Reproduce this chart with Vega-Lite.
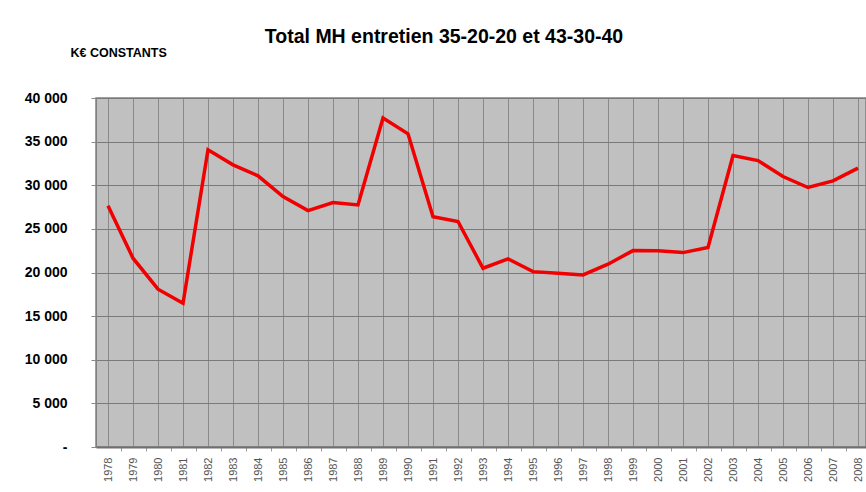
{
  "$schema": "https://vega.github.io/schema/vega-lite/v6.json",
  "autosize": {"type": "none"},
  "width": 770,
  "height": 349,
  "padding": {"left": 96, "top": 98, "right": 0, "bottom": 45},
  "background": "white",
  "title": {
    "text": "Total MH entretien 35-20-20 et 43-30-40",
    "anchor": "middle",
    "dx": -37,
    "offset": -16,
    "baseline": "alphabetic",
    "font": "Liberation Sans, Arial, sans-serif",
    "fontSize": 19.5,
    "fontWeight": "bold",
    "color": "#000000"
  },
  "data": {
    "values": [
      {"year": 1978, "value": 27640},
      {"year": 1979, "value": 21640},
      {"year": 1980, "value": 18090},
      {"year": 1981, "value": 16480},
      {"year": 1982, "value": 34060},
      {"year": 1983, "value": 32340},
      {"year": 1984, "value": 31080},
      {"year": 1985, "value": 28700},
      {"year": 1986, "value": 27100},
      {"year": 1987, "value": 28020},
      {"year": 1988, "value": 27750},
      {"year": 1989, "value": 37700},
      {"year": 1990, "value": 35900},
      {"year": 1991, "value": 26400},
      {"year": 1992, "value": 25840},
      {"year": 1993, "value": 20490},
      {"year": 1994, "value": 21560},
      {"year": 1995, "value": 20100},
      {"year": 1996, "value": 19920},
      {"year": 1997, "value": 19720},
      {"year": 1998, "value": 20950},
      {"year": 1999, "value": 22510},
      {"year": 2000, "value": 22490},
      {"year": 2001, "value": 22280},
      {"year": 2002, "value": 22860},
      {"year": 2003, "value": 33400},
      {"year": 2004, "value": 32830},
      {"year": 2005, "value": 31000},
      {"year": 2006, "value": 29740},
      {"year": 2007, "value": 30500},
      {"year": 2008, "value": 31960}
    ]
  },
  "mark": {"type": "line", "color": "#F00000", "strokeWidth": 3.5, "strokeJoin": "miter", "clip": false},
  "encoding": {
    "x": {
      "field": "year",
      "type": "quantitative",
      "scale": {"domain": [1977.52, 2008.32], "nice": false, "zero": false},
      "axis": {
        "title": null,
        "values": [1978,1978.5,1979,1979.5,1980,1980.5,1981,1981.5,1982,1982.5,1983,1983.5,1984,1984.5,1985,1985.5,1986,1986.5,1987,1987.5,1988,1988.5,1989,1989.5,1990,1990.5,1991,1991.5,1992,1992.5,1993,1993.5,1994,1994.5,1995,1995.5,1996,1996.5,1997,1997.5,1998,1998.5,1999,1999.5,2000,2000.5,2001,2001.5,2002,2002.5,2003,2003.5,2004,2004.5,2005,2005.5,2006,2006.5,2007,2007.5,2008],
        "labelExpr": "datum.value % 1 == 0 ? format(datum.value, 'd') : ''",
        "labelAngle": -90,
        "labelAlign": "right",
        "labelBaseline": "middle",
        "labelPadding": 6,
        "labelFont": "Liberation Sans, Arial, sans-serif",
        "labelFontSize": 11,
        "labelColor": "#555555",
        "labelOverlap": false,
        "ticks": true,
        "tickSize": 4,
        "tickColor": "#9a9a9a",
        "tickOpacity": {"condition": {"test": "datum.value % 1 == 0", "value": 0}, "value": 1},
        "grid": true,
        "gridColor": "#8a8a8a",
        "gridOpacity": {"condition": {"test": "datum.value % 1 == 0", "value": 1}, "value": 0},
        "gridWidth": 1,
        "domain": true,
        "domainColor": "#707070",
        "domainWidth": 2
      }
    },
    "y": {
      "field": "value",
      "type": "quantitative",
      "scale": {"domain": [0, 40000], "nice": false},
      "axis": {
        "title": "K€ CONSTANTS",
        "titleAngle": 0,
        "titleAlign": "left",
        "titleBaseline": "alphabetic",
        "titleX": -26,
        "titleY": -42,
        "titleFont": "Liberation Sans, Arial, sans-serif",
        "titleFontSize": 12.5,
        "titleFontWeight": "bold",
        "titleColor": "#000000",
        "values": [0, 5000, 10000, 15000, 20000, 25000, 30000, 35000, 40000],
        "labelExpr": "datum.value == 0 ? '-' : replace(format(datum.value, ','), ',', ' ')",
        "labelFont": "Liberation Sans, Arial, sans-serif",
        "labelFontSize": 14,
        "labelFontWeight": "bold",
        "labelColor": "#000000",
        "labelPadding": 24,
        "ticks": true,
        "tickSize": 5,
        "tickColor": "#8a8a8a",
        "grid": true,
        "gridColor": "#7a7a7a",
        "gridWidth": 1,
        "domain": true,
        "domainColor": "#808080",
        "domainWidth": 1
      }
    }
  },
  "config": {
    "view": {"fill": "#C0C0C0", "stroke": "#808080", "strokeWidth": 1.5}
  }
}
